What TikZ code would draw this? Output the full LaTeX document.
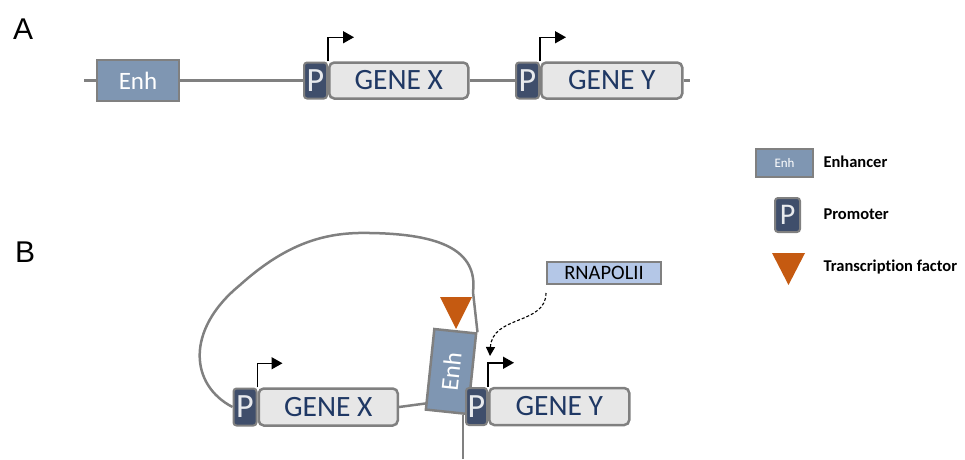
\documentclass[tikz,border=0pt]{standalone}
\usepackage{fontspec}
\setmainfont{Carlito}[Ligatures={NoCommon,NoRequired,NoContextual}]
\newfontfamily\panelfont{Liberation Sans}
\usepackage{tikz}
\usetikzlibrary{positioning,arrows.meta,backgrounds}

\definecolor{dnagray}{HTML}{808080}
\definecolor{enhblue}{HTML}{7F96B2}
\definecolor{promnavy}{HTML}{3F4E6B}
\definecolor{genefill}{HTML}{E7E7E7}
\definecolor{genetext}{HTML}{1F3864}
\definecolor{tforange}{HTML}{C55A11}
\definecolor{polblue}{HTML}{B4C7E7}

\newcommand{\fsize}[1]{\fontsize{#1}{#1}\selectfont}

\tikzset{
  dna/.style={draw=dnagray, line width=2.5pt},
  enhbox/.style={draw=dnagray, line width=2.5pt, fill=enhblue, text=white,
    inner sep=0pt, minimum width=82pt, minimum height=41pt, font=\fsize{25}},
  prombox/.style={draw=dnagray, line width=2pt, fill=promnavy, text=white!88!promnavy,
    rounded corners=3pt, inner sep=0pt, minimum width=23pt, minimum height=36pt, font=\fsize{34}},
  genebox/.style={draw=dnagray, line width=2.5pt, fill=genefill, text=genetext,
    rounded corners=5pt, inner sep=0pt, minimum width=139pt, minimum height=36pt, font=\fsize{29.5}},
  tss/.style={draw=black, line width=1.5pt, -{Triangle[length=11pt,width=12pt]}},
  legtext/.style={anchor=west, font=\bfseries\fsize{16.5}},
  panel/.style={anchor=north west, inner sep=0pt, font=\panelfont\fsize{30}}
}

\begin{document}
\begin{tikzpicture}[x=1pt, y=-1pt]
    \useasboundingbox (0,0) rectangle (965,459);

    \node[panel] (la) at (13,19) {A};
    \node[panel] (lb) at (15,242) {B};

    \node[enhbox] (enhA) at (138,80.5) {Enh};
    \node[prombox] (pXA) at (315.5,80.5) {P};
    \node[genebox, right=0pt of pXA] (gXA) {GENE X};
    \node[prombox] (pYA) at (527.5,80.5) {P};
    \node[genebox, right=0pt of pYA, minimum width=141pt] (gYA) {GENE Y};
    \coordinate (startA) at (84,80.5);
    \coordinate (endA) at (690,80.5);
    \begin{scope}[on background layer]
      \draw[dna] (startA) -- (enhA.west);
      \draw[dna] (enhA.east) -- (pXA.west);
      \draw[dna] (gXA.east) -- (pYA.west);
      \draw[dna] (gYA.east) -- (endA);
    \end{scope}
    \draw[tss] (gXA.north west) -- ++(0,-24) -- ++(26,0);
    \draw[tss] (gYA.north west) -- ++(0,-24) -- ++(26,0);

    \node[prombox, minimum height=37pt] (pXB) at (245,407) {P};
    \node[genebox, right=0pt of pXB, minimum height=37pt] (gXB) {GENE X};
    \node[enhbox, rotate=84, minimum width=81pt, minimum height=42pt] (enhB) at (451,371.5) {Enh};
    \node[prombox, minimum width=21pt, minimum height=37pt] (pYB) at (476.5,406.5) {P};
    \node[genebox, right=0pt of pYB, minimum width=140pt, minimum height=37pt] (gYB) {GENE Y};
    \fill[tforange] (440,297) -- (472,297) -- (456,329) -- cycle;
    \node[draw=dnagray, line width=2pt, fill=polblue, inner sep=0pt,
      minimum width=114pt, minimum height=22pt, font=\fsize{20.5}] (rnap) at (604,273) {RNAPOLII};
    \coordinate (enhIn) at (429,403);
    \coordinate (tailB) at (463,459);
    \coordinate (polTip) at (490,356);
    \begin{scope}[on background layer]
      \draw[dna] (pXB.west) .. controls (190,385) and (185,330) .. (240,285)
        .. controls (290,240) and (330,232) .. (370,233)
        .. controls (440,234) and (478,250) .. (473,292) -- (enhB.south east);
      \draw[dna] (gXB.east) -- (enhIn);
      \draw[dna] (tailB) -- (tailB |- enhB.south west);
    \end{scope}
    \draw[tss] (gXB.north west) -- ++(0,-24) -- ++(25,0);
    \draw[tss] (gYB.north west) -- ++(0,-24) -- ++(26,0);
    \draw[line width=1.1pt, dash pattern=on 3pt off 2pt, shorten <=8pt,
      -{Triangle[length=9pt,width=9pt]}]
      (rnap.south west) .. controls (546,325) and (492,315) .. (polTip);

    \node[enhbox, minimum width=57pt, minimum height=28pt, font=\fsize{13}] (legEnh) at (784.5,163) {Enh};
    \node[legtext] (tEnh) at (820,162) {Enhancer};
    \node[prombox, minimum width=25pt, minimum height=34pt, font=\fsize{30}] (legP) at (787.5,215) {P};
    \node[legtext] (tP) at (820,214) {Promoter};
    \fill[tforange] (772,253) -- (805,253) -- (788.5,285) -- cycle;
    \node[legtext] (tTF) at (820,267) {Transcription factor};
  \end{tikzpicture}
\end{document}
